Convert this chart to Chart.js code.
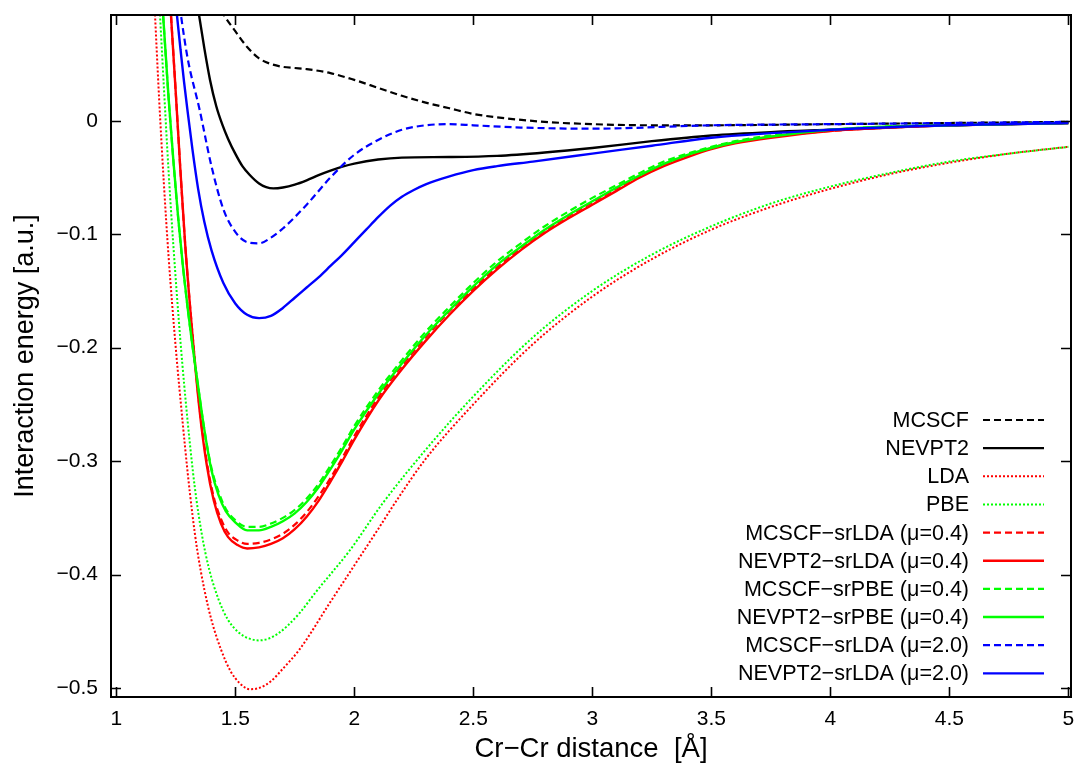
<!DOCTYPE html>
<html>
<head>
<meta charset="utf-8">
<script src="https://cdn.jsdelivr.net/npm/chart.js@4.4.1/dist/chart.umd.min.js"></script>
<style>
  html, body { margin: 0; padding: 0; background: #fff; }
  #wrap { width: 1082px; height: 768px; position: relative; }
</style>
</head>
<body>
<div id="wrap"><canvas id="c" width="1082" height="768"></canvas></div>
<script>
// ---- axis ticks ----
const X_TICKS = [1, 1.5, 2, 2.5, 3, 3.5, 4, 4.5, 5];
const X_TICK_LABELS = ['1', '1.5', '2', '2.5', '3', '3.5', '4', '4.5', '5'];
const Y_TICKS = [-0.5, -0.4, -0.3, -0.2, -0.1, 0];
const Y_TICK_LABELS = ['\u22120.5', '\u22120.4', '\u22120.3', '\u22120.2', '\u22120.1', '0'];

// ---- series (x: Cr-Cr distance in Å, y: interaction energy in a.u.) ----
const MCSCF_X = [1.40, 1.45, 1.50, 1.55, 1.60, 1.65, 1.70, 1.75, 1.80, 1.90, 2.0, 2.1, 2.2, 2.3, 2.4, 2.5, 2.6, 2.8, 3.0, 3.25, 3.5, 4.0, 4.5, 5.0];
const MCSCF_Y = [0.115, 0.094, 0.079, 0.065, 0.055, 0.050, 0.0475, 0.0465, 0.0455, 0.042, 0.036, 0.029, 0.022, 0.016, 0.011, 0.006, 0.003, -0.001, -0.003, -0.004, -0.004, -0.003, -0.002, -0.001];

const NEVPT2_X = [1.33, 1.348, 1.37, 1.394, 1.42, 1.445, 1.47, 1.50, 1.53, 1.56, 1.60, 1.63, 1.66, 1.70, 1.75, 1.80, 1.85, 1.90, 1.95, 2.0, 2.1, 2.2, 2.4, 2.6, 2.8, 3.0, 3.25, 3.5, 3.75, 4.0, 4.5, 5.0];
const NEVPT2_Y = [0.118, 0.093, 0.064, 0.036, 0.013, -0.003, -0.016, -0.029, -0.040, -0.0476, -0.0553, -0.0585, -0.0596, -0.0588, -0.0563, -0.0525, -0.048, -0.044, -0.0405, -0.0378, -0.0342, -0.0325, -0.032, -0.031, -0.028, -0.024, -0.018, -0.013, -0.010, -0.008, -0.004, -0.002];

const LDA_X = [1.15, 1.163, 1.18, 1.20, 1.22, 1.25, 1.28, 1.30, 1.32, 1.34, 1.37, 1.40, 1.44, 1.48, 1.52, 1.56, 1.60, 1.65, 1.70, 1.77, 1.90, 2.0, 2.1, 2.18, 2.3, 2.5, 2.75, 3.0, 3.25, 3.5, 3.75, 4.0, 4.25, 4.5, 4.75, 5.0];
const LDA_Y = [0.15, 0.093, 0.020, -0.055, -0.120, -0.200, -0.268, -0.310, -0.347, -0.378, -0.413, -0.440, -0.466, -0.485, -0.496, -0.501, -0.500, -0.494, -0.483, -0.466, -0.424, -0.392, -0.360, -0.334, -0.298, -0.250, -0.197, -0.155, -0.122, -0.096, -0.076, -0.060, -0.047, -0.037, -0.029, -0.023];

const PBE_X = [1.17, 1.184, 1.20, 1.22, 1.24, 1.27, 1.30, 1.33, 1.36, 1.39, 1.43, 1.47, 1.52, 1.56, 1.60, 1.64, 1.68, 1.72, 1.77, 1.84, 1.98, 2.12, 2.3, 2.5, 2.75, 3.0, 3.25, 3.5, 3.75, 4.0, 4.25, 4.5, 4.75, 5.0];
const PBE_Y = [0.15, 0.093, 0.030, -0.045, -0.110, -0.195, -0.265, -0.323, -0.365, -0.395, -0.422, -0.440, -0.452, -0.4565, -0.458, -0.4565, -0.452, -0.445, -0.434, -0.415, -0.379, -0.337, -0.290, -0.243, -0.191, -0.150, -0.118, -0.093, -0.073, -0.058, -0.046, -0.036, -0.029, -0.023];

const R_X = [1.21, 1.23, 1.25, 1.27, 1.29, 1.32, 1.35, 1.38, 1.41, 1.44, 1.47, 1.51, 1.55, 1.60, 1.65, 1.70, 1.75, 1.80, 1.85, 1.90, 1.95, 2.0, 2.1, 2.2, 2.3, 2.4, 2.5, 2.6, 2.7, 2.8, 2.9, 3.0, 3.1, 3.2, 3.3, 3.4, 3.5, 3.6, 3.75, 4.0, 4.25, 4.5, 4.75, 5.0];
const MCSCF_SRLDA04_Y = [0.16, 0.093, 0.025, -0.045, -0.110, -0.187, -0.253, -0.300, -0.332, -0.351, -0.363, -0.370, -0.373, -0.372, -0.369, -0.364, -0.356, -0.345, -0.331, -0.315, -0.297, -0.278, -0.244, -0.216, -0.191, -0.168, -0.148, -0.129, -0.112, -0.097, -0.084, -0.072, -0.060, -0.049, -0.039, -0.031, -0.024, -0.019, -0.014, -0.009, -0.006, -0.004, -0.003, -0.002];
const NEVPT2_SRLDA04_Y = [0.16, 0.093, 0.025, -0.045, -0.110, -0.188, -0.255, -0.303, -0.335, -0.355, -0.367, -0.374, -0.377, -0.376, -0.373, -0.368, -0.360, -0.349, -0.335, -0.318, -0.300, -0.281, -0.247, -0.219, -0.194, -0.171, -0.150, -0.131, -0.114, -0.099, -0.086, -0.074, -0.062, -0.050, -0.040, -0.032, -0.025, -0.020, -0.015, -0.009, -0.006, -0.004, -0.003, -0.002];

const G_X = [1.18, 1.197, 1.22, 1.24, 1.26, 1.28, 1.30, 1.32, 1.34, 1.37, 1.40, 1.43, 1.46, 1.50, 1.55, 1.60, 1.65, 1.70, 1.75, 1.80, 1.85, 1.90, 1.95, 2.0, 2.1, 2.2, 2.3, 2.4, 2.5, 2.6, 2.7, 2.8, 2.9, 3.0, 3.1, 3.2, 3.3, 3.4, 3.5, 3.6, 3.75, 4.0, 4.25, 4.5, 4.75, 5.0];
const MCSCF_SRPBE04_Y = [0.15, 0.093, 0.020, -0.035, -0.085, -0.128, -0.165, -0.198, -0.228, -0.272, -0.306, -0.327, -0.342, -0.352, -0.358, -0.358, -0.355, -0.350, -0.343, -0.333, -0.320, -0.304, -0.287, -0.269, -0.238, -0.211, -0.186, -0.164, -0.143, -0.124, -0.108, -0.093, -0.080, -0.068, -0.057, -0.046, -0.036, -0.029, -0.023, -0.018, -0.013, -0.008, -0.005, -0.004, -0.003, -0.002];
const NEVPT2_SRPBE04_Y = [0.15, 0.093, 0.020, -0.035, -0.085, -0.128, -0.165, -0.198, -0.228, -0.272, -0.308, -0.330, -0.344, -0.354, -0.361, -0.361, -0.358, -0.353, -0.346, -0.336, -0.323, -0.307, -0.290, -0.272, -0.241, -0.214, -0.189, -0.167, -0.146, -0.127, -0.111, -0.096, -0.083, -0.071, -0.059, -0.048, -0.038, -0.030, -0.024, -0.019, -0.014, -0.008, -0.005, -0.004, -0.003, -0.002];

const MCSCF_SRLDA2_X = [1.25, 1.272, 1.30, 1.35, 1.40, 1.45, 1.50, 1.55, 1.60, 1.65, 1.70, 1.80, 1.90, 2.0, 2.1, 2.2, 2.3, 2.4, 2.5, 2.7, 3.0, 3.5, 4.0, 4.5, 5.0];
const MCSCF_SRLDA2_Y = [0.13, 0.093, 0.055, 0.010, -0.040, -0.078, -0.098, -0.107, -0.108, -0.103, -0.095, -0.074, -0.050, -0.030, -0.017, -0.008, -0.004, -0.003, -0.004, -0.006, -0.007, -0.004, -0.003, -0.002, -0.001];

const NEVPT2_SRLDA2_X = [1.24, 1.255, 1.27, 1.285, 1.30, 1.32, 1.344, 1.37, 1.40, 1.45, 1.50, 1.55, 1.60, 1.65, 1.70, 1.75, 1.80, 1.85, 1.90, 1.95, 2.0, 2.05, 2.1, 2.15, 2.2, 2.25, 2.3, 2.4, 2.5, 2.6, 2.75, 3.0, 3.25, 3.5, 4.0, 4.5, 5.0];
const NEVPT2_SRLDA2_Y = [0.125, 0.093, 0.063, 0.034, 0.008, -0.025, -0.060, -0.089, -0.114, -0.143, -0.161, -0.171, -0.174, -0.172, -0.165, -0.156, -0.147, -0.138, -0.128, -0.118, -0.107, -0.096, -0.085, -0.075, -0.067, -0.061, -0.056, -0.049, -0.0435, -0.040, -0.036, -0.029, -0.022, -0.015, -0.008, -0.004, -0.002];

const LABELS = ['MCSCF', 'NEVPT2', 'LDA', 'PBE',
  'MCSCF\u2212srLDA (\u03bc=0.4)', 'NEVPT2\u2212srLDA (\u03bc=0.4)',
  'MCSCF\u2212srPBE (\u03bc=0.4)', 'NEVPT2\u2212srPBE (\u03bc=0.4)',
  'MCSCF\u2212srLDA (\u03bc=2.0)', 'NEVPT2\u2212srLDA (\u03bc=2.0)'];

// ---- styles ----
const BLACK = '#000000', RED = '#ff0000', GREEN = '#00ff00', BLUE = '#0000ff';
const DASH = [7, 4], DOT = [2, 2], SOLID = [];
const FONT = 'Liberation Sans, Arial, Helvetica, sans-serif';

function pts(xs, ys) { return xs.map((x, i) => ({ x: x, y: ys[i] })); }
const SERIES = [
  [MCSCF_X, MCSCF_Y, BLACK, DASH, 2.2],
  [NEVPT2_X, NEVPT2_Y, BLACK, SOLID, 2.4],
  [LDA_X, LDA_Y, RED, DOT, 2],
  [PBE_X, PBE_Y, GREEN, DOT, 2],
  [R_X, MCSCF_SRLDA04_Y, RED, DASH, 2.2],
  [R_X, NEVPT2_SRLDA04_Y, RED, SOLID, 2.4],
  [G_X, MCSCF_SRPBE04_Y, GREEN, DASH, 2.2],
  [G_X, NEVPT2_SRPBE04_Y, GREEN, SOLID, 2.4],
  [MCSCF_SRLDA2_X, MCSCF_SRLDA2_Y, BLUE, DASH, 2.2],
  [NEVPT2_SRLDA2_X, NEVPT2_SRLDA2_Y, BLUE, SOLID, 2.4]
];
const datasets = SERIES.map((s, i) => ({
  label: LABELS[i],
  data: pts(s[0], s[1]),
  borderColor: s[2],
  backgroundColor: s[2],
  borderDash: s[3],
  borderWidth: s[4],
  pointRadius: 0,
  fill: false,
  cubicInterpolationMode: 'monotone',
  order: SERIES.length - i
}));

// frame, inside ticks (mirrored) and custom legend
const framePlugin = {
  id: 'frame',
  afterDatasetsDraw(chart) {
    const { ctx, chartArea: a, scales } = chart;
    ctx.save();
    ctx.strokeStyle = '#000';
    ctx.lineWidth = 1.6;
    const TL = 10;
    ctx.beginPath();
    X_TICKS.forEach(v => {
      const px = Math.round(scales.x.getPixelForValue(v)) + 0.5;
      ctx.moveTo(px, a.bottom); ctx.lineTo(px, a.bottom - TL);
      ctx.moveTo(px, a.top); ctx.lineTo(px, a.top + TL);
    });
    Y_TICKS.forEach(v => {
      const py = Math.round(scales.y.getPixelForValue(v)) + 0.5;
      ctx.moveTo(a.left, py); ctx.lineTo(a.left + TL, py);
      ctx.moveTo(a.right, py); ctx.lineTo(a.right - TL, py);
    });
    ctx.stroke();
    ctx.lineWidth = 2;
    ctx.strokeRect(a.left, a.top, a.right - a.left, a.bottom - a.top);

    // legend
    const textRight = 969, lineX0 = 983, lineX1 = 1044, y0 = 420, dy = 28.15;
    ctx.font = '21.5px ' + FONT;
    ctx.textAlign = 'right';
    ctx.textBaseline = 'middle';
    chart.data.datasets.forEach((ds, i) => {
      const y = y0 + i * dy;
      ctx.fillStyle = '#000';
      ctx.fillText(ds.label, textRight, y + 1);
      ctx.beginPath();
      ctx.strokeStyle = ds.borderColor;
      ctx.lineWidth = ds.borderWidth;
      ctx.setLineDash(ds.borderDash);
      ctx.moveTo(lineX0, y); ctx.lineTo(lineX1, y);
      ctx.stroke();
      ctx.setLineDash([]);
    });
    ctx.restore();
  }
};

new Chart(document.getElementById('c'), {
  type: 'line',
  data: { datasets: datasets },
  options: {
    responsive: false,
    animation: false,
    layout: { padding: { top: 15, right: 11, left: 0, bottom: 0 } },
    plugins: { legend: { display: false }, tooltip: { enabled: false } },
    scales: {
      x: {
        type: 'linear', min: 0.978, max: 5.011,
        afterBuildTicks: s => { s.ticks = X_TICKS.map(v => ({ value: v })); },
        afterFit: s => { s.height = 71; s.paddingLeft = 0; s.paddingRight = 0; },
        grid: { display: false, drawTicks: false },
        border: { display: false },
        ticks: {
          autoSkip: false, maxRotation: 0, padding: 10, color: '#000',
          font: { family: FONT, size: 21 },
          callback: (v, i) => X_TICK_LABELS[i]
        },
        title: { display: true, text: 'Cr\u2212Cr distance  [\u00c5]', color: '#000',
                 font: { family: FONT, size: 27.5 }, padding: { bottom: 2 } }
      },
      y: {
        type: 'linear', min: -0.5079, max: 0.0932,
        afterBuildTicks: s => { s.ticks = Y_TICKS.map(v => ({ value: v })); },
        afterFit: s => { s.width = 111; s.paddingTop = 0; s.paddingBottom = 0; },
        grid: { display: false, drawTicks: false },
        border: { display: false },
        ticks: {
          autoSkip: false, padding: 13, color: '#000',
          font: { family: FONT, size: 21 },
          callback: (v, i) => Y_TICK_LABELS[i]
        },
        title: { display: true, text: 'Interaction energy [a.u.]', color: '#000',
                 font: { family: FONT, size: 27 }, padding: { top: 9 } }
      }
    }
  },
  plugins: [framePlugin]
});
</script>
</body>
</html>
